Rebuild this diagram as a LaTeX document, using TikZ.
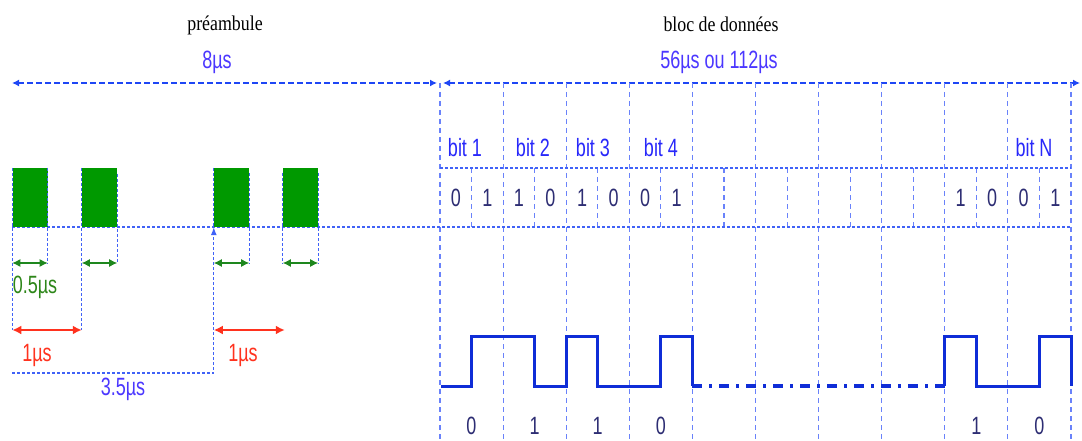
\documentclass[tikz,border=0pt]{standalone}
\usepackage{fontspec}
\setmainfont{Liberation Serif}
\newfontfamily\labfont[FakeStretch=0.72]{Liberation Sans}
\newfontfamily\titlefont[FakeStretch=0.85]{Liberation Serif}
\usetikzlibrary{arrows, arrows.meta, positioning, calc}
\definecolor{gridblue}{RGB}{105,130,250}
\definecolor{dimblue}{RGB}{30,70,245}
\definecolor{txtblue}{RGB}{75,55,255}
\definecolor{bitblue}{RGB}{40,40,250}
\definecolor{digitblue}{RGB}{45,45,115}
\definecolor{pulsegreen}{RGB}{0,153,0}
\definecolor{dimgreen}{RGB}{30,135,30}
\definecolor{dimred}{RGB}{255,50,30}
\definecolor{sigblue}{RGB}{15,45,215}

\begin{document}
\begin{tikzpicture}[x=1pt, y=-1pt, >={Latex[length=7pt,width=7pt]},
    title/.style={font=\titlefont\fontsize{21}{21}\selectfont},
    lab/.style={font=\labfont\fontsize{25}{25}\selectfont, inner sep=0pt},
    pulse/.style={fill=pulsegreen, minimum width=35pt, minimum height=59pt, inner sep=0pt},
    dimline/.style={dimblue, dash pattern=on 6pt off 3pt, line width=1.4pt, <->},
    gridline/.style={gridblue, dash pattern=on 5pt off 4pt, line width=1.1pt},
    dotline/.style={dimblue!85, dash pattern=on 3pt off 2pt, line width=1.1pt},
    garrow/.style={dimgreen, line width=1.2pt, {Latex[length=8pt,width=8pt]}-{Latex[length=8pt,width=8pt]}},
    rarrow/.style={dimred, line width=1.8pt, {Latex[length=9pt,width=9pt]}-{Latex[length=9pt,width=9pt]}},
    sigline/.style={sigblue, line width=3pt}]
    \useasboundingbox (0,0) rectangle (1082,441);

    % titres
    \node[title] (pre) at (225,25) {préambule};
    \node[title] (bloc) at (721,24) {bloc de données};
    \node[lab, text=txtblue] (t8) at (217,62) {8µs};
    \node[lab, text=txtblue] (t56) at (719,62) {56µs ou 112µs};

    \coordinate (a0) at (12,83);
    \coordinate (a1) at (437,83);
    \coordinate (b0) at (443,83);
    \coordinate (b1) at (1080,83);
    \draw[dimline] (a0) -- (a1);
    \draw[dimline] (b0) -- (b1);

    % grille du bloc de donnees
    \foreach \k in {0,...,10}
        \draw[gridline] (440+63.1*\k,83) -- (440+63.1*\k,441);
    \foreach \k in {0,...,9}
        \draw[gridline] (471.55+63.1*\k,168) -- (471.55+63.1*\k,227);
    \draw[dotline] (440,168) -- (1071,168);
    \draw[dotline] (12,227) -- (1071,227);

    \node[lab, text=bitblue] (bit1) at (465,148) {bit 1};
    \node[lab, text=bitblue] (bit2) at (533,148) {bit 2};
    \node[lab, text=bitblue] (bit3) at (593,148) {bit 3};
    \node[lab, text=bitblue] (bit4) at (661,148) {bit 4};
    \node[lab, text=bitblue] (bitN) at (1034,148) {bit N};

    \foreach \d [count=\i from 0] in {0,1,1,0,1,0,0,1}
        \node[lab, text=digitblue] at (455.8+31.55*\i,198) {\d};
    \foreach \d [count=\i from 16] in {1,0,0,1}
        \node[lab, text=digitblue] at (455.8+31.55*\i,198) {\d};

    % signal
    \draw[sigline] (441,386) -| (471.55,336) -| (534.65,386) -| (566.2,336)
        -| (597.75,386) -| (660.85,336) -| (692.4,386);
    \draw[sigline, line width=3.5pt, dash pattern=on 10pt off 7pt on 3pt off 7pt]
        (692.4,386) -- (944.8,386);
    \draw[sigline] (944.8,386) |- (976.35,336) |- (1039.45,386) |- (1071,336) -- (1071,386);

    \foreach \d/\i in {0/0,1/1,1/2,0/3,1/8,0/9}
        \node[lab, text=digitblue] at (471.5+63.1*\i,426) {\d};

    % preambule
    \node[pulse] (p1) at (30,197.5) {};
    \node[pulse] (p2) at (99.5,197.5) {};
    \node[pulse] (p3) at (231.5,197.5) {};
    \node[pulse] (p4) at (300.5,197.5) {};

    \coordinate (lg) at (0,263);
    \coordinate (lr) at (0,330);
    \coordinate (lb) at (0,373);

    \draw[dotline] (p1.north west) -- (p1.west |- lr);
    \draw[dotline] (p1.north east) -- (p1.east |- lg);
    \draw[dotline] (p2.north west) -- (p2.west |- lr);
    \draw[dotline] ([yshift=-6pt]p2.north east) -- (p2.east |- lg);
    \draw[dotline] (p3.north west) -- (p3.south west);
    \draw[dotline] ([yshift=-5pt]p3.north east) -- (p3.east |- lg);
    \draw[dotline] ([yshift=-5pt]p4.north west) -- (p4.west |- lg);
    \draw[dotline] ([yshift=-5pt]p4.north east) -- (p4.east |- lg);

    \draw[garrow] (p1.west |- lg) -- (p1.east |- lg);
    \draw[garrow] (p2.west |- lg) -- (p2.east |- lg);
    \draw[garrow] (p3.west |- lg) -- (p3.east |- lg);
    \draw[garrow] (p4.west |- lg) -- (p4.east |- lg);

    \draw[rarrow] (p1.west |- lr) -- (p2.west |- lr);
    \draw[rarrow] (p3.west |- lr) -- ([xshift=2pt]p4.west |- lr);
    \draw[dotline, -{Latex[length=8pt,width=6pt]}] (p1.west |- lb) -- (p3.west |- lb) -- (p3.south west);

    \node[lab, text=dimgreen!85!olive] (t05) at (35,287) {0.5µs};
    \node[lab, text=dimred] (t1a) at (37,355) {1µs};
    \node[lab, text=dimred] (t1b) at (243,355) {1µs};
    \node[lab, text=txtblue] (t35) at (123,389) {3.5µs};
\end{tikzpicture}
\end{document}
